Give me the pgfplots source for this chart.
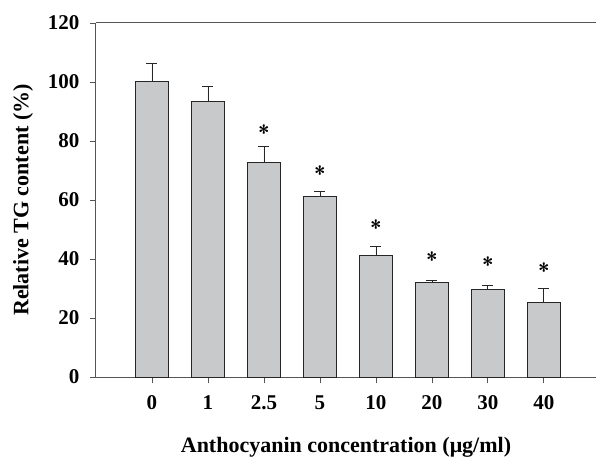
\documentclass[border=0pt]{standalone}
\usepackage{fontspec}
\setmainfont{Liberation Serif}
\usepackage{pgfplots}
\pgfplotsset{compat=1.18}
\definecolor{BarGray}{RGB}{200,201,203}
\definecolor{AxisGray}{RGB}{85,85,85}
\newcommand{\lbl}{\fontsize{22bp}{26bp}\selectfont\bfseries}
\newcommand{\tkl}{\fontsize{21bp}{25bp}\selectfont\bfseries}

\begin{document}
\begin{tikzpicture}
\begin{axis}[
    scale only axis,
    width=500bp,
    height=354bp,
    xmin=-1, xmax=7.93,
    ymin=0, ymax=120,
    axis x line=box,
    axis y line=left,
    axis line style={draw=AxisGray, line width=1bp, -},
    xtick pos=bottom,
    xtick={0,...,7},
    xticklabels={0,1,2.5,5,10,20,30,40},
    ytick={0,20,...,120},
    tick align=outside,
    major tick length=6bp,
    tick style={draw=AxisGray, line width=0.9bp},
    /pgf/number format/assume math mode=true,
    tick label style={font=\tkl},
    xticklabel style={yshift=-9bp},
    yticklabel style={xshift=-7bp},
    xlabel={Anthocyanin concentration (μg/ml)},
    ylabel={Relative TG content (\%)},
    label style={font=\lbl},
    xlabel style={at={(axis description cs:0.5,-0.212)}, anchor=base},
    ylabel style={at={(axis description cs:-0.146,0.5)}, anchor=center, rotate=0},
    clip=false,
]
\addplot[
    ybar,
    bar width=0.6,
    fill=BarGray,
    draw=black!85,
    line width=1bp,
    error bars/.cd,
        y dir=plus,
        y explicit,
        error bar style={line width=0.9bp, draw=black!85},
        error mark options={rotate=90, mark size=5.5bp, line width=0.9bp, draw=black!85},
] coordinates {
    (0,100.0) +- (0,6.3)
    (1,93.4)  +- (0,5.0)
    (2,72.8)  +- (0,5.5)
    (3,61.1)  +- (0,1.7)
    (4,41.2)  +- (0,3.0)
    (5,31.9)  +- (0,0.9)
    (6,29.7)  +- (0,1.5)
    (7,25.3)  +- (0,4.8)
};
% significance marks
\addplot[
    only marks,
    mark=text,
    text mark={\sffamily\bfseries\fontsize{21bp}{21bp}\selectfont *},
] coordinates {
    (2,82.8) (3,69.1) (4,50.5) (5,39.7) (6,38.2) (7,35.9)
};
\end{axis}
\pgfresetboundingbox
\path (current axis.south west) ++(-96bp,-80bp) coordinate (bbA);
\path (current axis.north east) ++(0bp,23bp) coordinate (bbB);
\path[use as bounding box] (bbA) rectangle (bbB);
\end{tikzpicture}
\end{document}
